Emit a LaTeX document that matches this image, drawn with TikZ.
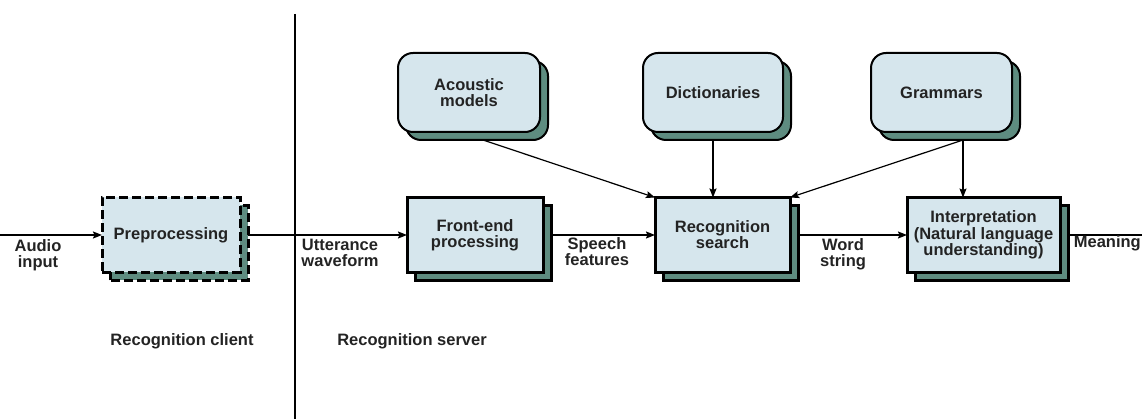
\documentclass[tikz,border=0pt]{standalone}
\usepackage{fontspec}
\setmainfont{Liberation Sans}
\usetikzlibrary{arrows.meta,backgrounds}
\definecolor{boxfill}{RGB}{214,230,237}
\definecolor{shadowfill}{RGB}{94,140,128}
\definecolor{txt}{RGB}{35,35,35}
\tikzset{
  lbl/.style={font=\bfseries\fontsize{16.5}{16}\selectfont, text=txt, align=center, inner sep=0pt},
  procbox/.style={lbl, draw=black, line width=3pt, fill=boxfill, outer sep=0pt, minimum height=75pt},
  dashbox/.style={procbox, dash pattern=on 9pt off 4pt},
  storebox/.style={lbl, draw=black, line width=2pt, fill=boxfill, outer sep=0pt, rounded corners=15pt, minimum height=79pt},
  shadowrect/.style={draw=black, line width=3pt, fill=shadowfill},
  shadowround/.style={draw=black, line width=2pt, fill=shadowfill, rounded corners=15pt},
  arr/.style={draw=black, line width=1.6pt, -{Stealth[length=9pt,width=7pt,inset=1.5pt]}},
  plain/.style={draw=black, line width=1.6pt}
}
\begin{document}
\begin{tikzpicture}[x=1pt,y=-1pt]
\useasboundingbox (0,0) rectangle (1142,419);
% process boxes
\node[dashbox, minimum width=138pt] (pre) at (171,235) {Preprocessing};
\node[procbox, minimum width=136pt] (fe) at (475,235) {Front-end\\processing};
\node[procbox, minimum width=135pt] (rs) at (722.5,235) {Recognition\\search};
\node[procbox, minimum width=153pt, font=\bfseries\fontsize{16.5}{14.5}\selectfont] (ip) at (983.5,235) {Interpretation\\(Natural language\\understanding)};
% knowledge sources
\node[storebox, minimum width=142pt] (am) at (469,92.5) {Acoustic\\models};
\node[storebox, minimum width=140pt] (dc) at (713,92.5) {Dictionaries};
\node[storebox, minimum width=141pt] (gr) at (941.5,92.5) {Grammars};
% shadows
\begin{scope}[on background layer]
  \draw[shadowrect, dash pattern=on 9pt off 4pt] ([shift={(8pt,-8pt)}]pre.south west) rectangle ([shift={(8pt,-8pt)}]pre.north east);
  \draw[shadowrect] ([shift={(8pt,-8pt)}]fe.south west) rectangle ([shift={(8pt,-8pt)}]fe.north east);
  \draw[shadowrect] ([shift={(8pt,-8pt)}]rs.south west) rectangle ([shift={(8pt,-8pt)}]rs.north east);
  \draw[shadowrect] ([shift={(8pt,-8pt)}]ip.south west) rectangle ([shift={(8pt,-8pt)}]ip.north east);
  \draw[shadowround] ([shift={(8pt,-8pt)}]am.south west) rectangle ([shift={(8pt,-8pt)}]am.north east);
  \draw[shadowround] ([shift={(8pt,-8pt)}]dc.south west) rectangle ([shift={(8pt,-8pt)}]dc.north east);
  \draw[shadowround] ([shift={(8pt,-8pt)}]gr.south west) rectangle ([shift={(8pt,-8pt)}]gr.north east);
\end{scope}
% divider
\coordinate (dtop) at (295,14);
\coordinate (dbot) at (295,419);
\draw[black, line width=2.5pt] (dtop) -- (dbot);
% main flow
\coordinate (ain) at (0,235);
\coordinate (mout) at (1142,235);
\draw[arr] (ain) -- (pre.west);
\draw[arr] ([xshift=8pt]pre.east) -- (fe.west);
\draw[arr] ([xshift=8pt]fe.east) -- (rs.west);
\draw[arr] ([xshift=8pt]rs.east) -- (ip.west);
\draw[plain] ([xshift=8pt]ip.east) -- (mout);
% knowledge arrows
\coordinate (as) at ([shift={(14pt,-8pt)}]am.south);
\coordinate (ds) at ([yshift=-8pt]dc.south);
\coordinate (gs) at ([shift={(21.5pt,-8pt)}]gr.south);
\draw[arr, line width=1.2pt] (as) -- (rs.north west);
\draw[arr] (ds) -- (ds |- rs.north);
\draw[arr, line width=1.2pt] (gs) -- (rs.north east);
\draw[arr, line width=1.2pt] (gs) -- (gs |- ip.north);
% labels
\node[lbl] (lain) at (38,255) {Audio\\input};
\node[lbl] (luw) at (340,253) {Utterance\\waveform};
\node[lbl] (lsf) at (597,252) {Speech\\features};
\node[lbl] (lws) at (843,254) {Word\\string};
\node[lbl, anchor=east] (lmn) at (1141,243) {Meaning};
\node[lbl] (lrc) at (182,341) {Recognition client};
\node[lbl] (lrsv) at (412,341) {Recognition server};
\end{tikzpicture}
\end{document}
